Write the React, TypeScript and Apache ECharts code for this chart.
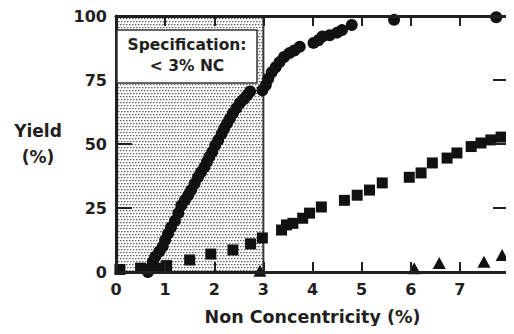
import React, { useEffect, useRef } from "react";
import * as echarts from "echarts";

// Non concentricity (%) vs yield (%)
const circleData: [number, number][] = [
  [0.65, 0], [0.7, 1.5], [0.75, 4], [0.8, 6], [0.88, 8], [0.95, 10], [1.0, 12.5],
  [1.06, 15], [1.12, 17.5], [1.2, 20], [1.27, 23], [1.33, 26], [1.4, 28], [1.47, 30],
  [1.53, 32], [1.6, 34.5], [1.67, 37], [1.73, 39], [1.8, 41], [1.85, 43], [1.9, 45],
  [1.96, 47], [2.02, 49.5], [2.08, 51.5], [2.15, 54], [2.2, 56], [2.26, 58], [2.32, 60],
  [2.38, 62], [2.45, 64], [2.52, 66], [2.6, 67.5], [2.67, 69], [2.73, 70.5], [2.98, 71],
  [3.05, 73], [3.1, 75.5], [3.17, 78], [3.25, 80], [3.33, 82], [3.42, 84], [3.53, 85.5],
  [3.63, 86.5], [3.74, 88], [4.02, 89.5], [4.12, 90.5], [4.2, 92], [4.35, 92.5],
  [4.5, 93.5], [4.6, 94.5], [4.8, 96.5], [5.66, 98.5], [7.74, 99.5],
];

const squareData: [number, number][] = [
  [0.08, 1], [0.5, 1.5], [0.92, 1.5], [1.03, 2.5], [1.5, 4.7], [1.93, 7], [2.38, 8.6],
  [2.74, 11], [2.98, 13.3], [3.37, 16.4], [3.47, 18.4], [3.6, 19], [3.8, 21], [3.94, 23],
  [4.18, 25.4], [4.65, 28], [4.91, 30], [5.16, 32], [5.42, 34.8], [5.97, 37], [6.21, 38.7],
  [6.44, 42.6], [6.74, 44.5], [6.94, 46.5], [7.23, 49], [7.43, 50.4], [7.63, 51.6], [7.84, 52.7],
];

const triangleData: [number, number][] = [
  [2.93, 0.5], [6.07, 1.5], [6.58, 3.5], [7.49, 4], [7.86, 6.6],
];

const specRange: [number, number] = [0, 3];
const xTicks = [0, 1, 2, 3, 4, 5, 6, 7];
const yTicks = [0, 25, 50, 75, 100];

const INK = "#231f20";
const MARK = "#111111";
const FONT = "'DejaVu Sans', Verdana, sans-serif";

function makePattern(): HTMLCanvasElement {
  const c = document.createElement("canvas");
  c.width = 6;
  c.height = 6;
  const ctx = c.getContext("2d")!;
  ctx.fillStyle = "#ffffff";
  ctx.fillRect(0, 0, 6, 6);
  const dots: [number, number][] = [[0, 0], [3, 0], [1, 3], [4, 3]];
  dots.forEach(([x, y]) => {
    ctx.fillStyle = "#666666";
    ctx.fillRect(x, y, 1, 1);
    ctx.fillStyle = "#aaaaaa";
    ctx.fillRect(x + 1, y, 1, 1);
    ctx.fillStyle = "#cccccc";
    ctx.fillRect(x, y + 1, 1, 1);
  });
  return c;
}

export default function App() {
  const ref = useRef<HTMLDivElement>(null);

  useEffect(() => {
    if (!ref.current) return;
    const chart = echarts.init(ref.current, undefined, { renderer: "svg" });
    const pattern = makePattern();

    const axisLabelStyle = {
      fontFamily: FONT,
      fontWeight: "bold" as const,
      fontSize: 16,
      color: INK,
    };
    const frameLine = { show: true, onZero: false, lineStyle: { color: INK, width: 3 } };
    const xTick = { show: true, inside: true, length: 10, lineStyle: { color: INK, width: 2 } };
    const yTick = { show: true, inside: true, length: 16, lineStyle: { color: INK, width: 2 } };

    chart.setOption({
      animation: false,
      backgroundColor: "#ffffff",
      grid: { left: 116, top: 16, width: 393, height: 256 },
      xAxis: [
        {
          type: "value",
          z: 10,
          min: 0,
          max: 8,
          interval: 1,
          position: "bottom",
          name: "Non Concentricity (%)",
          nameLocation: "middle",
          nameGap: 36,
          nameTextStyle: { ...axisLabelStyle, fontSize: 17.5 },
          axisLine: frameLine,
          axisTick: xTick,
          axisLabel: {
            ...axisLabelStyle,
            margin: 9,
            formatter: (v: number) => (xTicks.includes(v) ? String(v) : ""),
          },
          splitLine: { show: false },
        },
        {
          type: "value",
          z: 10,
          min: 0,
          max: 8,
          interval: 1,
          position: "top",
          axisLine: frameLine,
          axisTick: xTick,
          axisLabel: { show: false },
          splitLine: { show: false },
        },
      ],
      yAxis: [
        {
          type: "value",
          z: 10,
          min: 0,
          max: 100,
          interval: 25,
          position: "left",
          axisLine: frameLine,
          axisTick: yTick,
          axisLabel: {
            ...axisLabelStyle,
            margin: 9,
            formatter: (v: number) => (yTicks.includes(v) ? String(v) : ""),
          },
          splitLine: { show: false },
        },
        {
          type: "value",
          z: 10,
          min: 0,
          max: 100,
          interval: 25,
          position: "right",
          axisLine: frameLine,
          axisTick: yTick,
          axisLabel: { show: false },
          splitLine: { show: false },
        },
      ],
      graphic: [
        {
          type: "rect",
          z: 50,
          shape: { x: 117, y: 30, width: 140, height: 53 },
          style: { fill: "#ffffff", stroke: "#333333", lineWidth: 1.5 },
        },
        {
          type: "text",
          z: 51,
          x: 187,
          y: 45,
          style: {
            text: "Specification:",
            fontFamily: FONT,
            fontWeight: "bold",
            fontSize: 15.5,
            fill: INK,
            align: "center",
            verticalAlign: "middle",
          },
        },
        {
          type: "text",
          z: 51,
          x: 187,
          y: 66,
          style: {
            text: "< 3% NC",
            fontFamily: FONT,
            fontWeight: "bold",
            fontSize: 15.5,
            fill: INK,
            align: "center",
            verticalAlign: "middle",
          },
        },
        {
          type: "text",
          x: 38,
          y: 131,
          style: {
            text: "Yield",
            fontFamily: FONT,
            fontWeight: "bold",
            fontSize: 17,
            fill: INK,
            align: "center",
            verticalAlign: "middle",
          },
        },
        {
          type: "text",
          x: 38,
          y: 157,
          style: {
            text: "(%)",
            fontFamily: FONT,
            fontWeight: "bold",
            fontSize: 17,
            fill: INK,
            align: "center",
            verticalAlign: "middle",
          },
        },
      ],
      series: [
        {
          type: "scatter",
          name: "Circles",
          symbol: "circle",
          symbolSize: 12,
          itemStyle: { color: MARK, opacity: 1 },
          data: circleData,
          clip: false,
          z: 5,
          markArea: {
            silent: true,
            itemStyle: {
              color: { image: pattern, repeat: "repeat" } as any,
              borderColor: "#3a3a3a",
              borderWidth: 2,
              opacity: 1,
            },
            data: [[{ xAxis: specRange[0], yAxis: 0 }, { xAxis: specRange[1], yAxis: 100 }]],
          },
        },
        {
          type: "scatter",
          name: "Squares",
          symbol: "rect",
          symbolSize: 11,
          itemStyle: { color: MARK, opacity: 1 },
          data: squareData,
          clip: false,
          z: 5,
        },
        {
          type: "scatter",
          name: "Triangles",
          symbol: "triangle",
          symbolSize: [13, 12],
          itemStyle: { color: MARK, opacity: 1 },
          data: triangleData,
          clip: false,
          z: 5,
        },
      ],
    });

    return () => chart.dispose();
  }, []);

  return <div ref={ref} style={{ width: 514, height: 334, margin: -8 }} />;
}
